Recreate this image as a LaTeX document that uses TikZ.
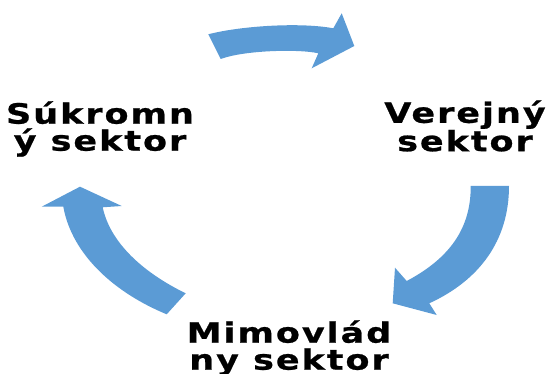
\documentclass[tikz,border=0pt]{standalone}
\usepackage{fontspec}
\setmainfont{DejaVu Sans}
\newfontfamily\sectorfont[FakeStretch=1.25,LetterSpace=7,FakeBold=0.8]{DejaVu Sans Bold}
\usetikzlibrary{positioning}
\definecolor{arrowblue}{RGB}{91,155,213}
\tikzset{
sector/.style={
    align=center,
    inner sep=0pt,
    font=\fontsize{28}{27}\sectorfont
},
blockarrow/.style={
    fill=arrowblue,
    draw=none
}}

\begin{document}
\begin{tikzpicture}[x=1pt, y=-1pt]
\useasboundingbox (0,0) rectangle (549,374);
\node[sector]    (pub)    at (465,126)    {Verejný\\sektor};
\node[sector]    (ngo)    at (289,348)    {Mimovlád\\ny sektor};
\node[sector]    (priv)   at (100,129)    {Súkromn\\ý sektor};

\fill[blockarrow] (208.3,34.3) .. controls (240,26) and (300,22) .. (333.3,28.3)
    -- (341.7,13.3) -- (354.3,46) -- (311.7,68.3) -- (318.3,53.3)
    .. controls (300,49) and (245,50) .. (220.7,59) -- cycle;
\fill[blockarrow] (470.7,186) -- (509,186)
    .. controls (509,240) and (480,280) .. (429.3,303.3)
    -- (436.7,315) -- (392.7,303.3) -- (395,267.7) -- (406.7,281)
    .. controls (450,258) and (471,228) .. (470.7,186) -- cycle;
\fill[blockarrow] (185.7,293.3) .. controls (142,272) and (110,242) .. (102.7,207.3)
    -- (121.7,206) -- (80,186.7) -- (41.7,206.7) -- (63.3,206.7)
    .. controls (72,255) and (115,293) .. (166.7,314.3) -- cycle;
\end{tikzpicture}
\end{document}
